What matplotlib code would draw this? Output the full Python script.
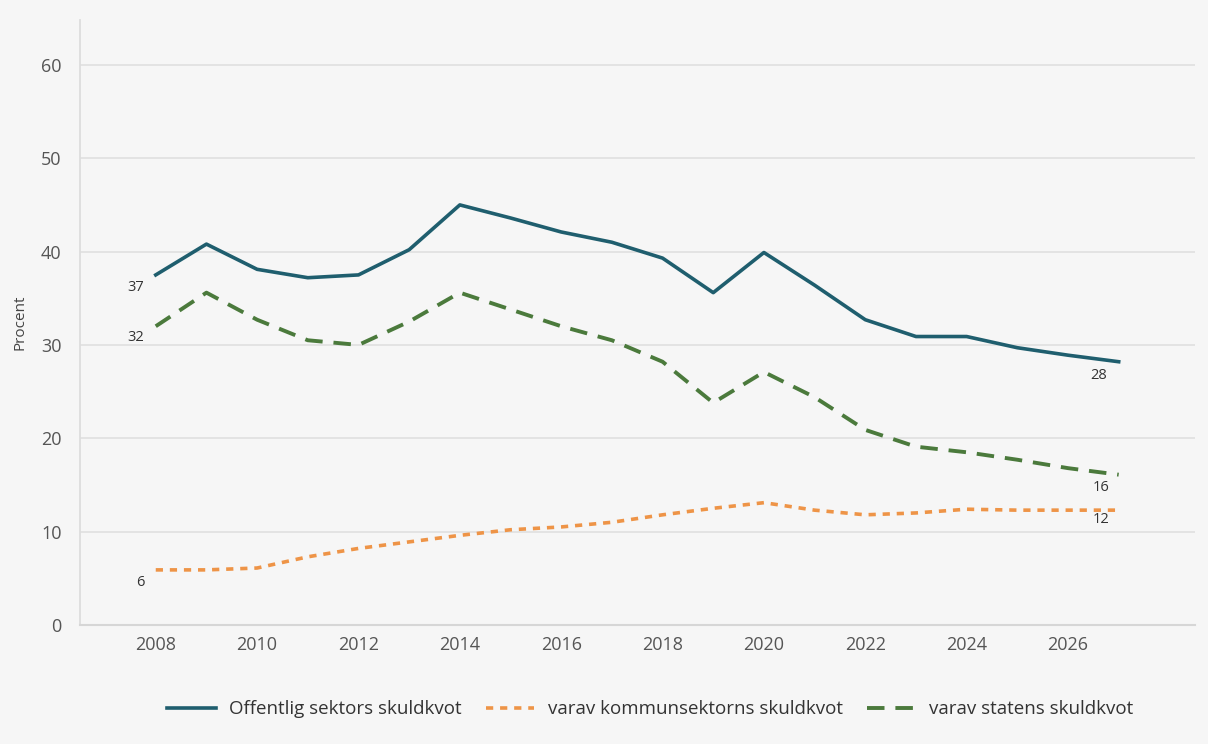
import numpy as np
import matplotlib.pyplot as plt

plt.rcParams['font.family'] = ['Open Sans', 'DejaVu Sans']

YEARS = list(range(2008, 2028))

# Offentlig sektors skuldkvot (procent av BNP)
OFFENTLIG = [37.5, 40.8, 38.1, 37.2, 37.5, 40.2, 45.0, 43.6, 42.1, 41.0,
             39.3, 35.6, 39.9, 36.4, 32.7, 30.9, 30.9, 29.7, 28.9, 28.2]
# varav kommunsektorns skuldkvot
KOMMUN = [5.9, 5.9, 6.1, 7.3, 8.2, 8.9, 9.6, 10.2, 10.5, 11.0,
          11.8, 12.5, 13.1, 12.3, 11.8, 12.0, 12.4, 12.3, 12.3, 12.3]
# varav statens skuldkvot
STATEN = [32.0, 35.6, 32.7, 30.5, 30.0, 32.5, 35.6, 33.8, 32.0, 30.5,
          28.2, 23.8, 27.1, 24.4, 20.9, 19.1, 18.5, 17.7, 16.8, 16.1]

LABELS = ['Offentlig sektors skuldkvot',
          'varav kommunsektorns skuldkvot',
          'varav statens skuldkvot']

# endpoint labels: (series, index, text, dx, dy)
END_LABELS = [
    (OFFENTLIG, 0, '37', -0.4, -1.4),
    (STATEN, 0, '32', -0.4, -1.2),
    (KOMMUN, 0, '6', -0.3, -1.3),
    (OFFENTLIG, -1, '28', -0.4, -1.5),
    (STATEN, -1, '16', -0.35, -1.4),
    (KOMMUN, -1, '12', -0.35, -1.05),
]

BG = '#f6f6f6'
C_OFF = '#1f5e6e'
C_KOM = '#ee9447'
C_STA = '#4b7a3c'

fig = plt.figure(figsize=(12.08, 7.44), dpi=100, facecolor=BG)
ax = fig.add_axes([0.066, 0.16, 0.923, 0.813])
ax.set_facecolor(BG)

ax.plot(YEARS, OFFENTLIG, color=C_OFF, linewidth=2.6, label=LABELS[0],
        solid_joinstyle='round')
ax.plot(YEARS, KOMMUN, color=C_KOM, linewidth=2.6, label=LABELS[1],
        linestyle=(0, (2.0, 1.9)))
ax.plot(YEARS, STATEN, color=C_STA, linewidth=2.8, label=LABELS[2],
        linestyle=(0, (4.5, 2.8)))

for series, i, txt, dx, dy in END_LABELS:
    ax.text(YEARS[i] + dx, series[i] + dy, txt, fontsize=10.5, color='#333333',
            ha='center', va='center')

ax.set_xlim(2006.5, 2028.5)
ax.set_ylim(0, 64.8)
ax.set_xticks(range(2008, 2027, 2))
ax.set_yticks(range(0, 61, 10))
ax.tick_params(axis='both', length=0, labelsize=13, colors='#555555')
ax.tick_params(axis='x', pad=8)
ax.tick_params(axis='y', pad=13)

for y in range(10, 61, 10):
    ax.axhline(y, color='#e2e2e2', linewidth=1.3, zorder=0)

for side in ['top', 'right']:
    ax.spines[side].set_visible(False)
ax.spines['left'].set_color('#dddddd')
ax.spines['left'].set_linewidth(1.3)
ax.spines['bottom'].set_color('#d6d6d6')
ax.spines['bottom'].set_linewidth(1.5)

ax.set_ylabel('Procent', fontsize=11, color='#444444', labelpad=10)

fig.legend(loc='lower center', bbox_to_anchor=(0.538, 0.012), ncol=3, frameon=False,
           fontsize=13.5, handlelength=2.6, handletextpad=0.7, columnspacing=1.3,
           labelcolor='#333333')

fig.savefig('out.png', dpi=100, facecolor=BG)
